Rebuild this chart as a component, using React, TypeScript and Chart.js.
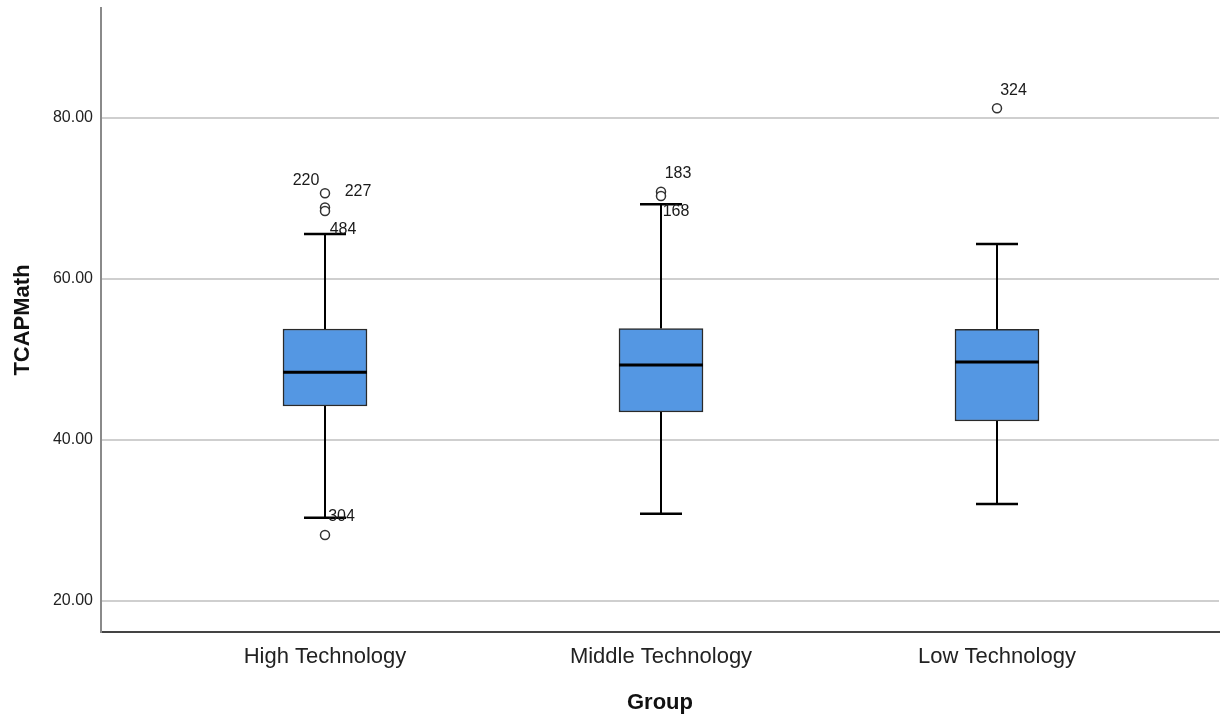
import React, { useEffect, useRef } from "react";
import { Chart, registerables } from "chart.js";

Chart.register(...registerables);

// ---- data ----
const groups = ["High Technology", "Middle Technology", "Low Technology"];
const groupPos = [1, 2, 3];
const whiskerLow = [30.35, 30.85, 32.05];
const q1 = [44.22, 43.48, 42.36];
const median = [48.41, 49.32, 49.69];
const q3 = [53.79, 53.85, 53.75];
const whiskerHigh = [65.6, 69.28, 64.35];
const outlierGroup = [0, 0, 0, 0, 1, 1, 2];
const outlierValue = [70.65, 68.89, 68.45, 28.2, 70.85, 70.31, 81.2];
const outlierCase = ["220", "227", "484", "304", "183", "168", "324"];
const yTicks = [20, 40, 60, 80];

// ---- style ----
const FONT = '"Liberation Sans", Arial, Helvetica, sans-serif';
const labelOffsets = [
  [-19, -12.5],
  [33, -15.5],
  [18, 18.3],
  [16.5, -18.3],
  [17, -17.7],
  [15, 15.7],
  [16.5, -17.6],
];

const outlierLabels = {
  id: "outlierLabels",
  afterDatasetsDraw(chart: any) {
    const { ctx, scales } = chart;
    const x = scales.x;
    const y = scales.y;
    ctx.save();
    ctx.font = `16px ${FONT}`;
    ctx.fillStyle = "#1a1a1a";
    ctx.textAlign = "center";
    ctx.textBaseline = "middle";
    outlierCase.forEach((c, i) => {
      const px = x.getPixelForValue(groupPos[outlierGroup[i]]) + labelOffsets[i][0];
      const py = y.getPixelForValue(outlierValue[i]) + labelOffsets[i][1];
      ctx.fillText(c, px, py);
    });
    ctx.restore();
  },
};

const zeroPadding = (s: any) => {
  s.paddingLeft = 0;
  s.paddingRight = 0;
  s.paddingTop = 0;
  s.paddingBottom = 0;
};

export default function App() {
  const ref = useRef<HTMLCanvasElement | null>(null);

  useEffect(() => {
    if (!ref.current) return;
    Chart.defaults.font.family = FONT;

    const upperWhiskers = groupPos.map((g, i) => ({
      type: "scatter",
      data: [
        { x: g, y: whiskerHigh[i] },
        { x: g, y: q3[i] },
      ],
      showLine: true,
      borderColor: "#000",
      borderWidth: 2,
      pointRadius: 0,
      order: 6,
    }));
    const lowerWhiskers = groupPos.map((g, i) => ({
      type: "scatter",
      data: [
        { x: g, y: q1[i] },
        { x: g, y: whiskerLow[i] },
      ],
      showLine: true,
      borderColor: "#000",
      borderWidth: 2,
      pointRadius: 0,
      order: 6,
    }));

    const chart = new Chart(ref.current, {
      type: "bar",
      data: {
        datasets: [
          ...upperWhiskers,
          ...lowerWhiskers,
          {
            type: "bar",
            data: groupPos.map((g, i) => ({ x: g, y: [q1[i], q3[i]] })),
            backgroundColor: "#5497e3",
            borderColor: "#2a2a2a",
            borderWidth: 1.5,
            borderSkipped: false,
            barThickness: 84,
            order: 4,
          },
          {
            type: "scatter",
            data: groupPos.map((g, i) => ({ x: g, y: median[i] })),
            pointStyle: "line",
            pointRadius: 42,
            pointBorderColor: "#000",
            pointBorderWidth: 3,
            order: 3,
          },
          {
            type: "scatter",
            data: [
              ...groupPos.map((g, i) => ({ x: g, y: whiskerHigh[i] })),
              ...groupPos.map((g, i) => ({ x: g, y: whiskerLow[i] })),
            ],
            pointStyle: "line",
            pointRadius: 21,
            pointBorderColor: "#000",
            pointBorderWidth: 2.5,
            order: 3,
          },
          {
            type: "scatter",
            data: outlierValue.map((v, i) => ({ x: groupPos[outlierGroup[i]], y: v })),
            pointStyle: "circle",
            pointRadius: 4.5,
            pointBorderColor: "#333",
            pointBorderWidth: 1.5,
            pointBackgroundColor: "#fff",
            order: 1,
          },
        ] as any,
      },
      options: {
        animation: false,
        responsive: true,
        maintainAspectRatio: false,
        layout: { autoPadding: false, padding: { top: 8, right: 2, left: 0, bottom: 0 } },
        plugins: {
          legend: { display: false },
          tooltip: { enabled: false },
        },
        events: [],
        scales: {
          x: {
            type: "linear",
            min: 1 / 3,
            max: 3.6607,
            offset: false,
            afterBuildTicks: (s: any) => {
              s.ticks = groupPos.map((v) => ({ value: v }));
            },
            afterFit: (s: any) => {
              s.height = 85;
              zeroPadding(s);
            },
            ticks: {
              callback: (v: any) => groups[groupPos.indexOf(Number(v))] ?? "",
              font: { size: 22, family: FONT },
              color: "#222",
              padding: 12,
              autoSkip: false,
              maxRotation: 0,
            },
            grid: { display: false, drawTicks: false },
            border: { display: true, color: "#444", width: 2 },
            title: {
              display: true,
              text: "Group",
              font: { size: 22, weight: "bold", family: FONT },
              color: "#111",
              padding: { top: 0, bottom: 1 },
            },
          },
          y: {
            type: "linear",
            min: 16.15,
            max: 93.66,
            afterBuildTicks: (s: any) => {
              s.ticks = yTicks.map((v) => ({ value: v }));
            },
            afterFit: (s: any) => {
              s.width = 101;
              zeroPadding(s);
            },
            ticks: {
              callback: (v: any) => Number(v).toFixed(2),
              font: { size: 16, family: FONT },
              color: "#222",
              padding: 8,
            },
            grid: { color: "#cfcfcf", lineWidth: 2, drawTicks: false },
            border: { display: true, color: "#8a8a8a", width: 2 },
            title: {
              display: true,
              text: "TCAPMath",
              font: { size: 22, weight: "bold", family: FONT },
              color: "#111",
              padding: { top: 10, bottom: 0 },
            },
          },
        },
      } as any,
      plugins: [outlierLabels],
    });
    return () => chart.destroy();
  }, []);

  return (
    <div
      style={{
        position: "fixed",
        left: 0,
        top: 0,
        width: 1221,
        height: 717,
        background: "#fff",
      }}
    >
      <canvas ref={ref} />
    </div>
  );
}
